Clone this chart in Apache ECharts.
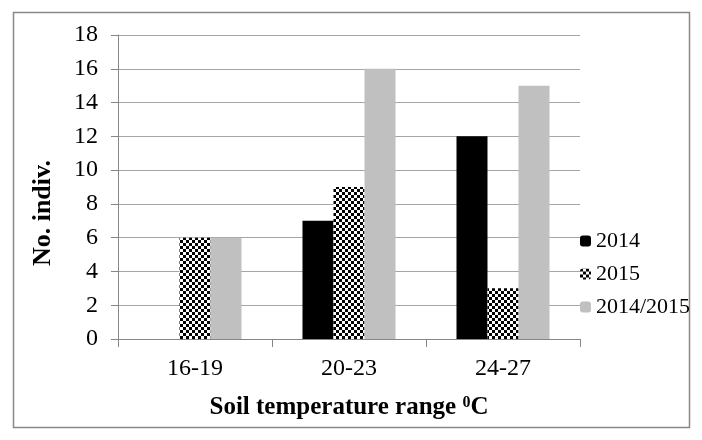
<!DOCTYPE html>
<html><head><meta charset="utf-8">
<script src="https://cdn.jsdelivr.net/npm/echarts@6/dist/echarts.min.js"></script>
<style>html,body{margin:0;padding:0;background:#fff}#c{width:702px;height:440px}</style>
</head><body><div id="c"></div>
<script>
var categories = ['16-19', '20-23', '24-27'];
var s2014 = [0, 7, 12];
var s2015 = [6, 9, 3];
var s2014_2015 = [6, 16, 15];
var seriesNames = ['2014', '2015', '2014/2015'];
var yTicks = {min: 0, max: 18, interval: 2};
var yTitle = 'No. indiv.';

var pc = document.createElement('canvas');
pc.width = 6; pc.height = 6;
var ctx = pc.getContext('2d');
ctx.fillStyle = '#fff'; ctx.fillRect(0,0,6,6);
ctx.fillStyle = '#000'; ctx.fillRect(0,0,3,3); ctx.fillRect(3,3,3,3);

var font = 'Liberation Serif, Times New Roman, serif';
var chart = echarts.init(document.getElementById('c'));
chart.setOption({
  animation: false,
  graphic: [
    {type: 'rect', shape: {x: 13.5, y: 12.5, width: 676, height: 415}, style: {fill: 'none', stroke: '#888', lineWidth: 1.5}, z: 0},
    {type: 'text', x: 43, y: 213, rotation: Math.PI / 2, style: {text: yTitle, fontFamily: font, fontSize: 26, fontWeight: 'bold', fill: '#000', align: 'center', verticalAlign: 'middle'}}
  ],
  grid: {left: 118, top: 35, width: 462, height: 304, containLabel: false},
  legend: {
    orient: 'vertical', left: 580, top: 230, padding: 0, itemWidth: 11, itemHeight: 11, itemGap: 11,
    textStyle: {fontFamily: font, fontSize: 22, color: '#000'},
    data: seriesNames
  },
  xAxis: {
    type: 'category', data: categories,
    axisLine: {lineStyle: {color: '#868686', width: 1}},
    axisTick: {show: true, length: 8, lineStyle: {color: '#868686'}},
    axisLabel: {fontFamily: font, fontSize: 24, color: '#000', margin: 18},
    name: 'Soil temperature range {sup|0}C', nameLocation: 'middle', nameGap: 56,
    nameTextStyle: {fontFamily: font, fontSize: 25, fontWeight: 'bold', color: '#000',
      rich: {sup: {fontFamily: font, fontSize: 16, fontWeight: 'bold', color: '#000', verticalAlign: 'top', padding: [0,0,10,0]}}}
  },
  yAxis: {
    type: 'value', min: yTicks.min, max: yTicks.max, interval: yTicks.interval,
    axisLine: {show: true, lineStyle: {color: '#868686'}},
    axisTick: {show: true, length: 7, lineStyle: {color: '#868686'}},
    splitLine: {lineStyle: {color: '#a6a6a6'}},
    axisLabel: {fontFamily: font, fontSize: 24, color: '#000', margin: 20}
  },
  series: [
    {name: seriesNames[0], type: 'bar', data: s2014, barGap: '0%', barCategoryGap: '39.6%', itemStyle: {color: '#000'}},
    {name: seriesNames[1], type: 'bar', data: s2015, itemStyle: {color: {image: pc, repeat: 'repeat'}}},
    {name: seriesNames[2], type: 'bar', data: s2014_2015, itemStyle: {color: '#c0c0c0'}}
  ]
});
</script></body></html>
